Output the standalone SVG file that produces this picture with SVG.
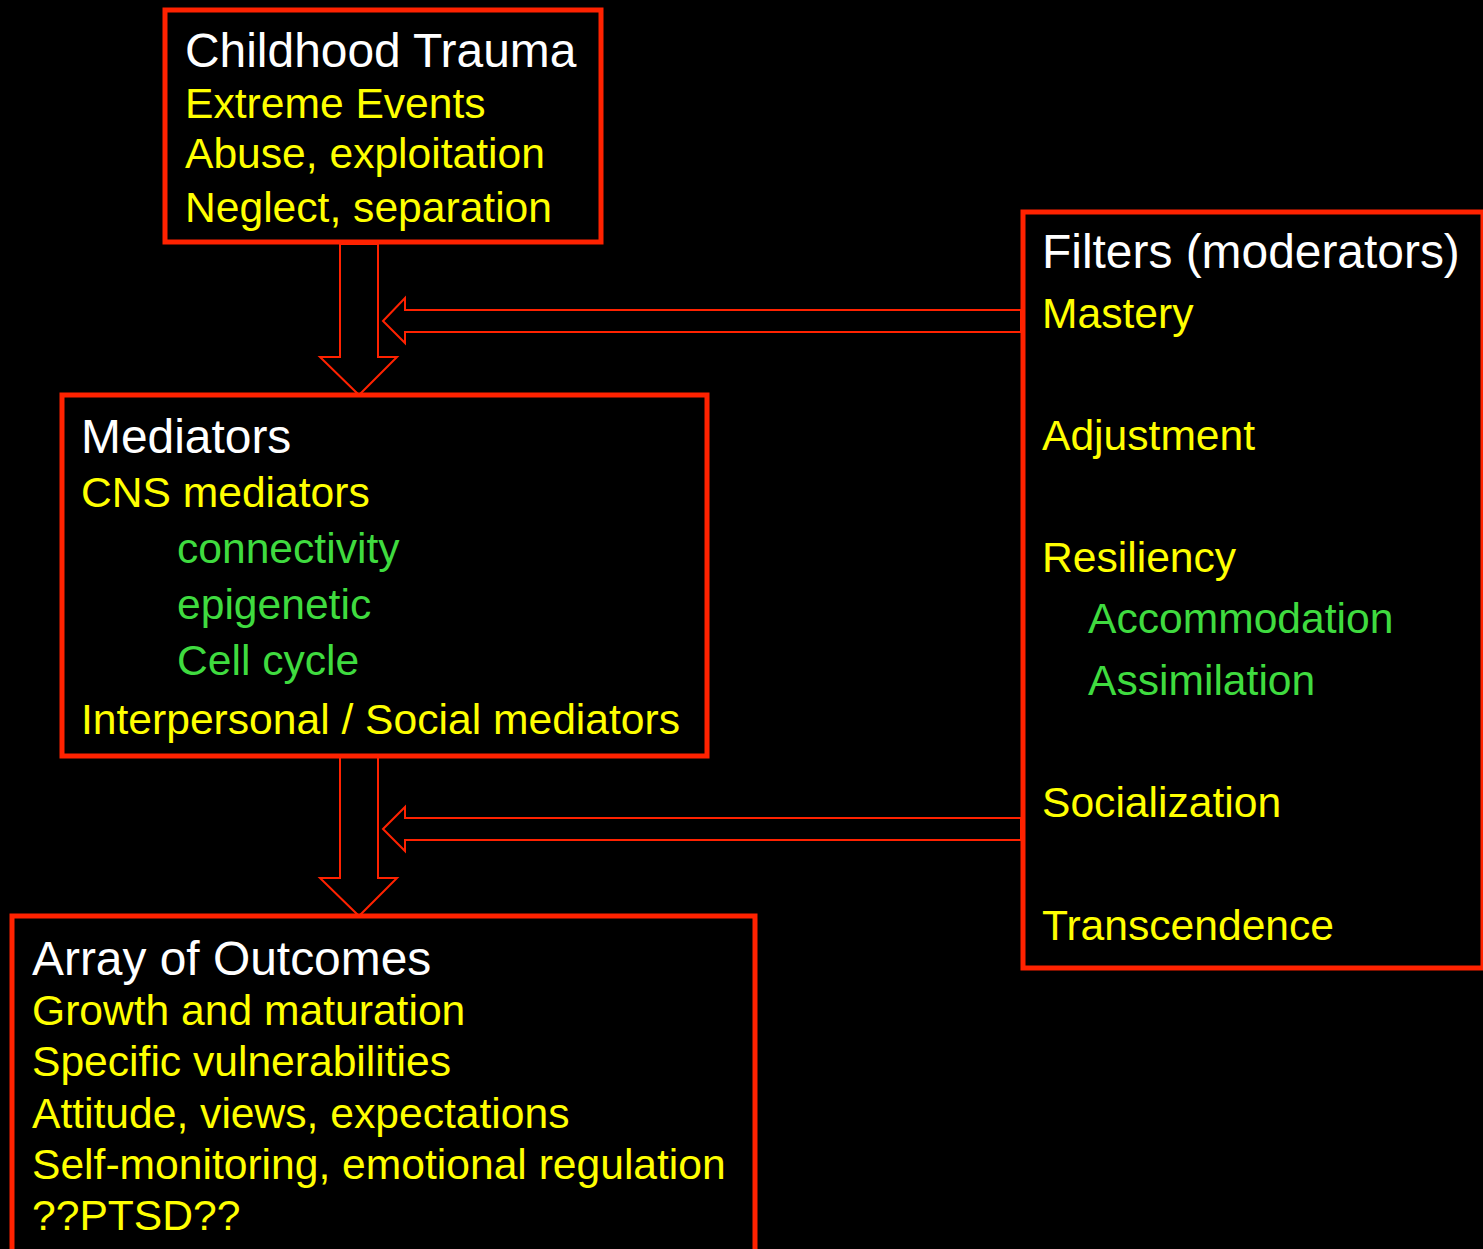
<svg xmlns="http://www.w3.org/2000/svg" width="1483" height="1249" viewBox="0 0 1483 1249">
<style>
.box{fill:#000;stroke:#FF2200;stroke-width:5}
.arr{fill:#000;stroke:#FF2200;stroke-width:2;stroke-linejoin:miter}
text{font-family:"Liberation Sans",Arial,sans-serif}
.h{fill:#FFFFFF;font-size:47.9px}
.y{fill:#FFFF00;font-size:42.6px}
.g{fill:#3FDB3F;font-size:42.6px}
</style>
<rect x="0" y="0" width="1483" height="1249" fill="#000"/>
<g id="connectors">
<polygon class="arr" points="340,244 378,244 378,357 397,357 359,395 320,357 340,357"/>
<polygon class="arr" points="383,321 405,298 405,310 1021,310 1021,332 405,332 405,343"/>
<polygon class="arr" points="340,757 378,757 378,878 397,878 359,916 320,878 340,878"/>
<polygon class="arr" points="383,829 405,807 405,818 1021,818 1021,840 405,840 405,851"/>
</g>
<g id="trauma">
<rect class="box" x="165" y="10" width="436" height="232"/>
<text class="h" x="185" y="67">Childhood Trauma</text>
<text class="y" x="185" y="118">Extreme Events</text>
<text class="y" x="185" y="168">Abuse, exploitation</text>
<text class="y" x="185" y="222">Neglect, separation</text>
</g>
<g id="mediators">
<rect class="box" x="62" y="395" width="645" height="361"/>
<text class="h" x="81" y="453">Mediators</text>
<text class="y" x="81" y="507">CNS mediators</text>
<text class="g" x="177" y="563">connectivity</text>
<text class="g" x="177" y="619">epigenetic</text>
<text class="g" x="177" y="675">Cell cycle</text>
<text class="y" x="81" y="734">Interpersonal / Social mediators</text>
</g>
<g id="outcomes">
<rect class="box" x="12" y="916" width="743" height="400"/>
<text class="h" x="32" y="975">Array of Outcomes</text>
<text class="y" x="32" y="1025">Growth and maturation</text>
<text class="y" x="32" y="1076">Specific vulnerabilities</text>
<text class="y" x="32" y="1128">Attitude, views, expectations</text>
<text class="y" x="32" y="1179">Self-monitoring, emotional regulation</text>
<text class="y" x="32" y="1230">??PTSD??</text>
</g>
<g id="filters">
<rect class="box" x="1023" y="212" width="460" height="756"/>
<text class="h" x="1042" y="268">Filters (moderators)</text>
<text class="y" x="1042" y="328">Mastery</text>
<text class="y" x="1042" y="450">Adjustment</text>
<text class="y" x="1042" y="572">Resiliency</text>
<text class="g" x="1088" y="633">Accommodation</text>
<text class="g" x="1088" y="695">Assimilation</text>
<text class="y" x="1042" y="817">Socialization</text>
<text class="y" x="1042" y="940">Transcendence</text>
</g>
</svg>
